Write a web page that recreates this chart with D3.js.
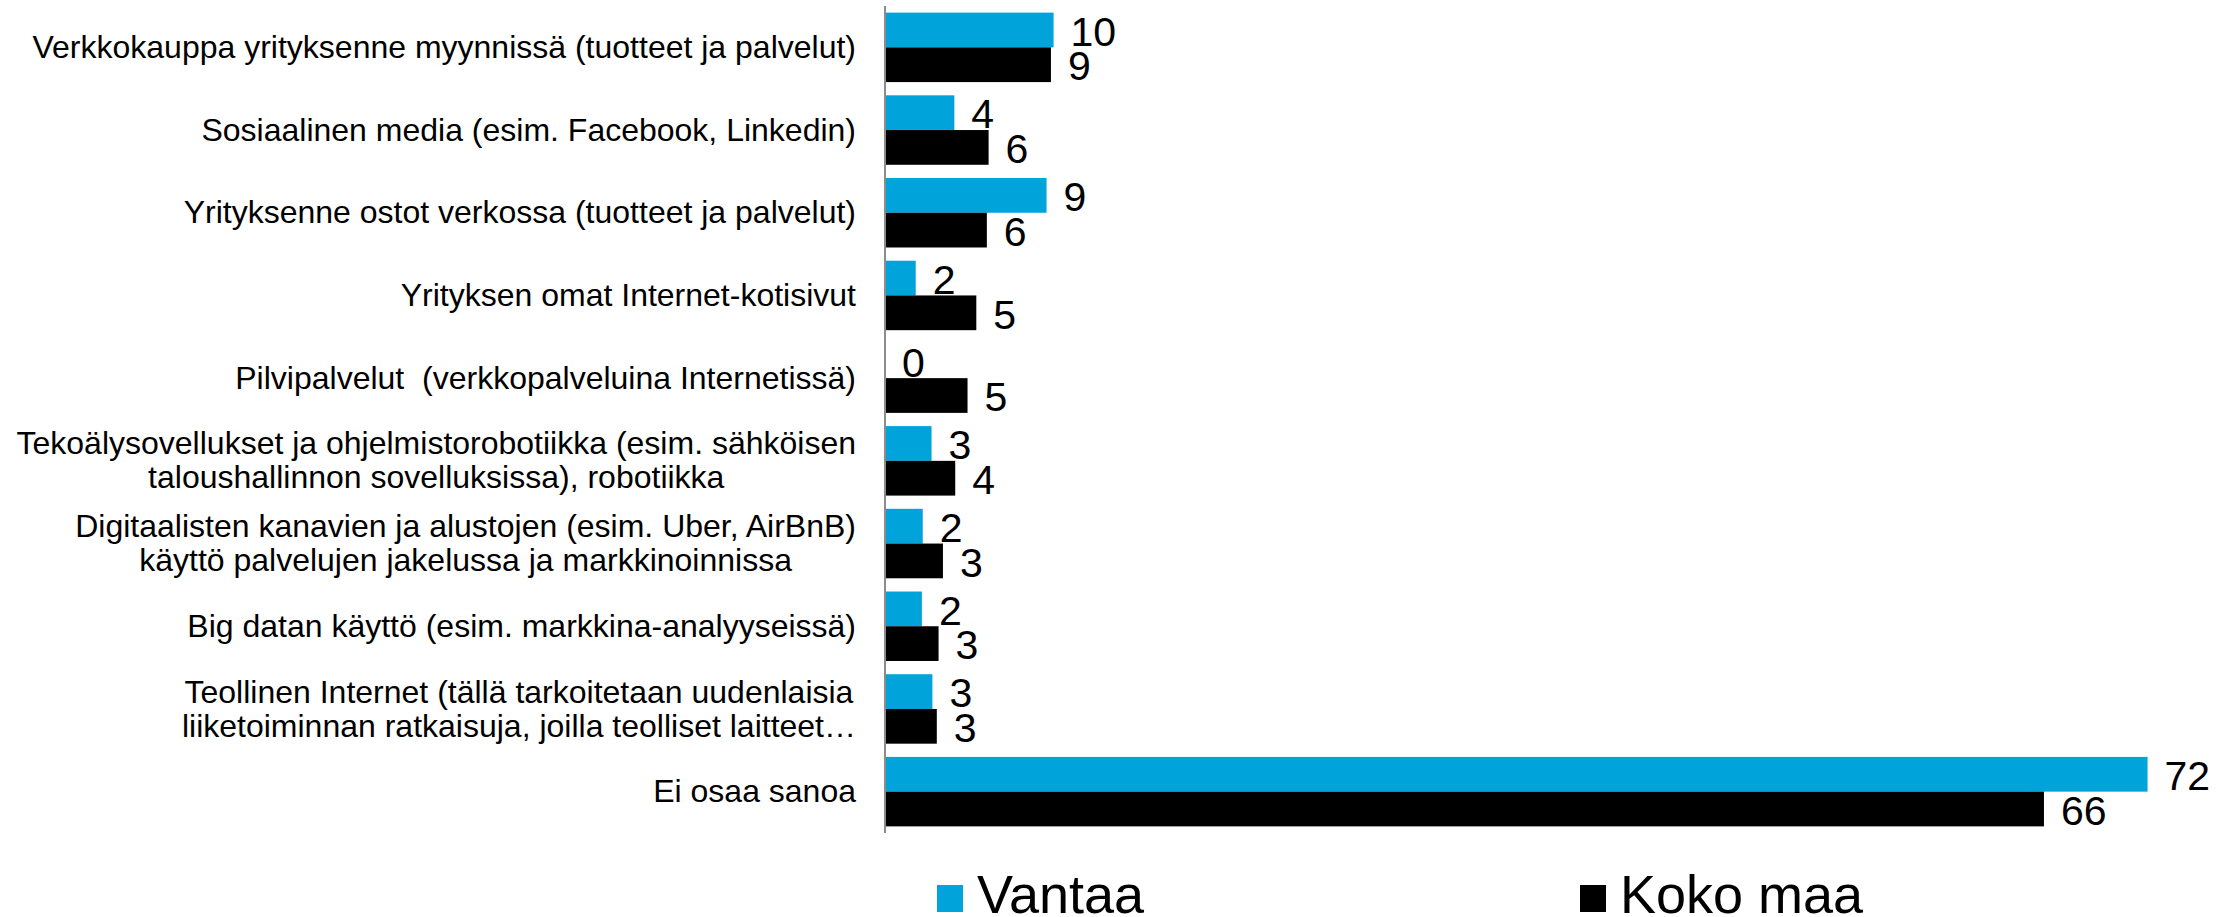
<!DOCTYPE html>
<html>
<head>
<meta charset="utf-8">
<script src="https://cdn.jsdelivr.net/npm/d3@7"></script>
<style>
  body { margin: 0; background: #fff; }
  text { font-family: "Liberation Sans", Arial, sans-serif; fill: #000; }
</style>
</head>
<body>
<div id="chart"></div>
<script>
// Data
var categories = [
    "Verkkokauppa yrityksenne myynnissä (tuotteet ja palvelut)",
    "Sosiaalinen media (esim. Facebook, Linkedin)",
    "Yrityksenne ostot verkossa (tuotteet ja palvelut)",
    "Yrityksen omat Internet-kotisivut",
    "Pilvipalvelut  (verkkopalveluina Internetissä)",
    "Tekoälysovellukset ja ohjelmistorobotiikka (esim. sähköisen\ntaloushallinnon sovelluksissa), robotiikka",
    "Digitaalisten kanavien ja alustojen (esim. Uber, AirBnB)\nkäyttö palvelujen jakelussa ja markkinoinnissa",
    "Big datan käyttö (esim. markkina-analyyseissä)",
    "Teollinen Internet (tällä tarkoitetaan uudenlaisia\nliiketoiminnan ratkaisuja, joilla teolliset laitteet…",
    "Ei osaa sanoa"
];
var seriesNames = ["Vantaa", "Koko maa"];
var vantaa = [9.6, 3.95, 9.2, 1.75, 0, 2.65, 2.15, 2.1, 2.7, 71.9];
var kokoMaa = [9.45, 5.9, 5.8, 5.2, 4.7, 4.0, 3.3, 3.05, 2.95, 66.0];
var seriesColors = ["#00a3da", "#000000"];

// Chart parameters
var svgWidth = 2226;
var svgHeight = 917;
var axisX = 885;

var svg = d3.select("#chart")
    .append("svg")
    .attr("width", svgWidth)
    .attr("height", svgHeight);

var xScale = d3.scaleLinear()
    .domain([0, 72])
    .range([axisX, axisX + 72 * 17.56]);

var yScale = d3.scaleBand()
    .domain(categories)
    .range([6, 833])
    .paddingInner(0.16)
    .paddingOuter(0.08);

var subScale = d3.scaleBand()
    .domain(seriesNames)
    .range([0, yScale.bandwidth()]);

var rows = categories.map(function (c, i) {
    return { cat: c, values: [vantaa[i], kokoMaa[i]] };
});

var groups = svg.selectAll("g.row")
    .data(rows)
    .enter()
    .append("g")
    .attr("class", "row")
    .attr("transform", d => `translate(0, ${yScale(d.cat)})`);

// Bars
groups.selectAll("rect")
    .data(d => d.values.map((v, k) => ({ name: seriesNames[k], value: v, k: k })))
    .enter()
    .append("rect")
    .attr("x", xScale(0))
    .attr("y", d => subScale(d.name))
    .attr("width", d => xScale(d.value) - xScale(0))
    .attr("height", subScale.bandwidth())
    .attr("fill", d => seriesColors[d.k]);

// Value labels
var valueSize = 41;
groups.selectAll("text.value")
    .data(d => d.values.map((v, k) => ({ name: seriesNames[k], value: v })))
    .enter()
    .append("text")
    .attr("class", "value")
    .attr("x", d => xScale(d.value) + 17)
    .attr("y", d => subScale(d.name) + subScale.bandwidth() / 2 + valueSize * 0.36 + 1)
    .attr("font-size", valueSize)
    .text(d => Math.round(d.value));

// Axis line
var yAxis = svg.append("g")
    .attr("transform", `translate(${axisX}, 0)`)
    .call(d3.axisLeft(yScale).tickSize(0).tickFormat(""));
yAxis.select(".domain")
    .attr("stroke", "#8c8c8c")
    .attr("stroke-width", 2)
    .attr("d", `M0,6V833`);

// Category labels (multi-line labels are centred on their widest line)
var labelSize = 32;
var lineHeight = 34;
var labelRight = 856;
rows.forEach(function (d) {
    var lines = d.cat.split("\n");
    var cy = yScale(d.cat) + yScale.bandwidth() / 2;
    var t = svg.append("text")
        .attr("font-size", labelSize)
        .style("white-space", "pre");
    lines.forEach(function (line, j) {
        t.append("tspan")
            .attr("y", cy + (j - (lines.length - 1) / 2) * lineHeight + labelSize * 0.33)
            .text(line);
    });
    var maxW = 0;
    t.selectAll("tspan").each(function () {
        maxW = Math.max(maxW, this.getComputedTextLength());
    });
    t.attr("text-anchor", "middle");
    t.selectAll("tspan").attr("x", labelRight - maxW / 2);
});

// Legend
var legendX = [937, 1580];
var legend = svg.selectAll("g.legend")
    .data(seriesNames)
    .enter()
    .append("g")
    .attr("class", "legend")
    .attr("transform", (d, i) => `translate(${legendX[i]}, 885)`);

legend.append("rect")
    .attr("width", 26)
    .attr("height", 27)
    .attr("fill", (d, i) => seriesColors[i]);

legend.append("text")
    .attr("x", 40)
    .attr("y", 28)
    .attr("font-size", 54)
    .text(d => d);
</script>
</body>
</html>
